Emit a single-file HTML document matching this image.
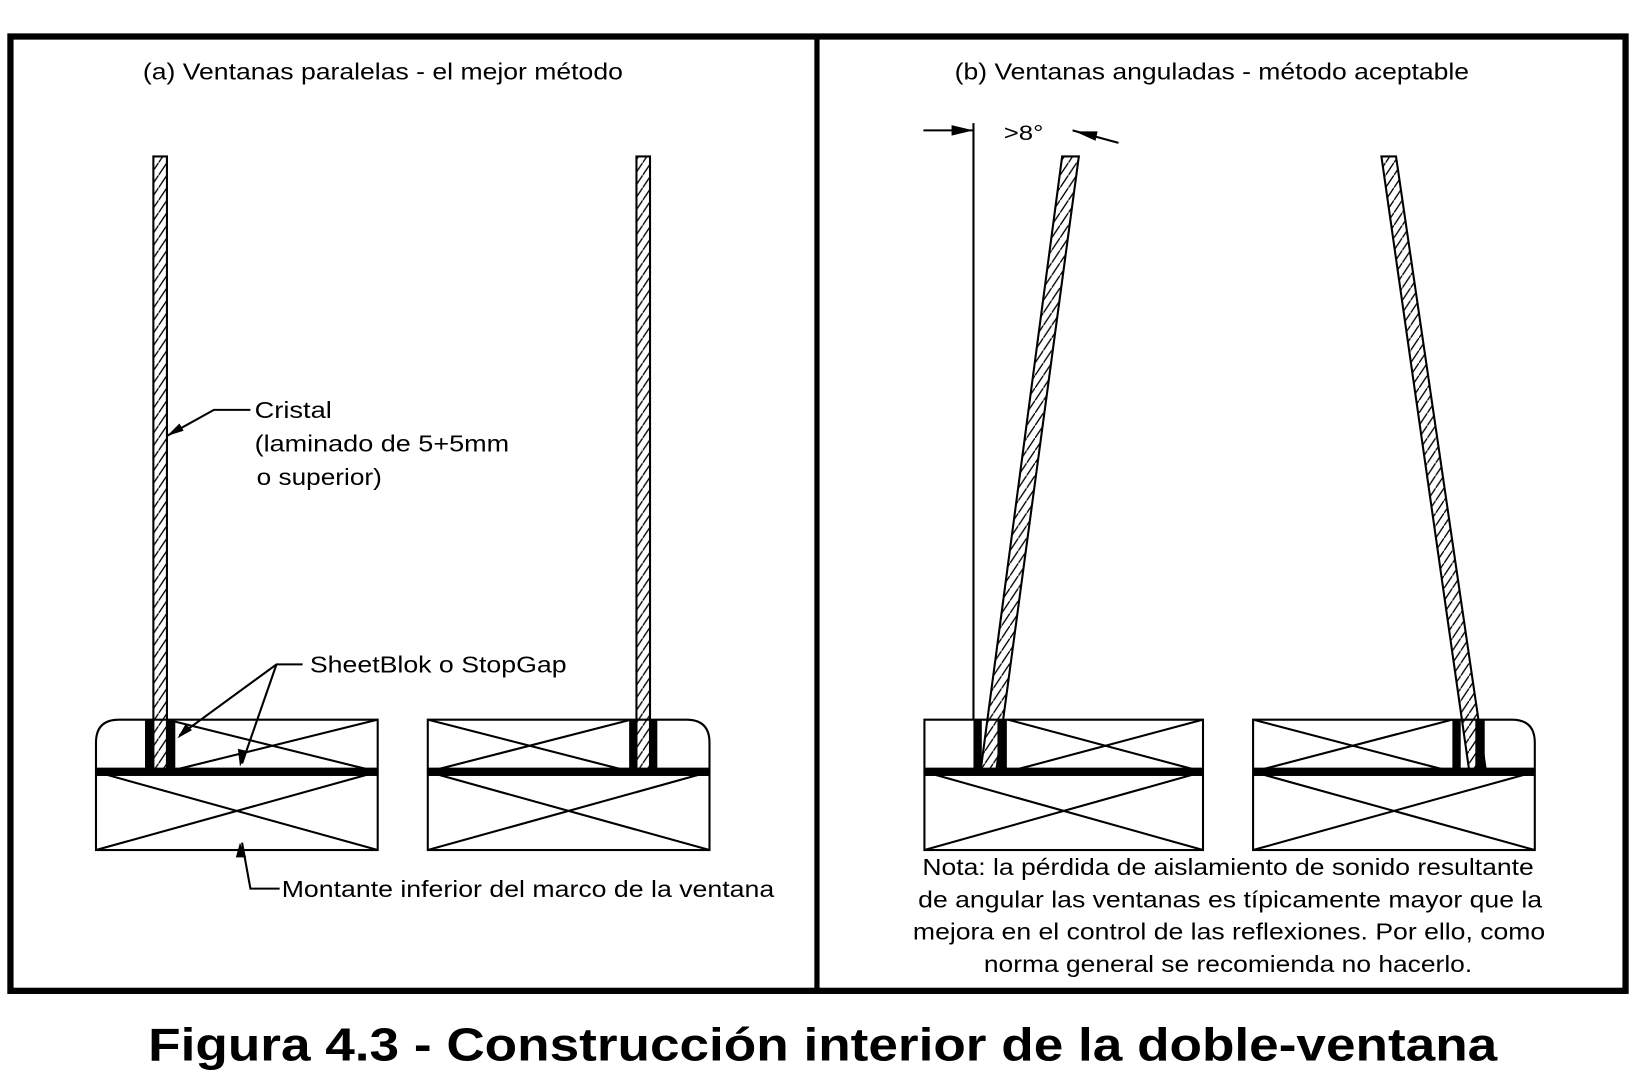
<!DOCTYPE html>
<html><head><meta charset="utf-8"><style>
html,body{margin:0;padding:0;background:#fff;}
svg{display:block;}
text{font-family:"Liberation Sans",sans-serif;fill:#000;}
</style></head><body>
<svg width="1636" height="1092" viewBox="0 0 1568 1047" preserveAspectRatio="none" xmlns="http://www.w3.org/2000/svg">
<defs>
<pattern id="hatch" width="8" height="12" patternUnits="userSpaceOnUse">
<line x1="0" y1="12" x2="8" y2="0" stroke="#000" stroke-width="1.3"/>
</pattern>
</defs>
<rect width="1568" height="1047" fill="#fff"/>
<rect x="10" y="35" width="1548" height="915" fill="none" stroke="#000" stroke-width="6"/>
<line x1="783" y1="35" x2="783" y2="950" stroke="#000" stroke-width="5"/>

<text x="137" y="76" font-size="22" textLength="460" lengthAdjust="spacingAndGlyphs">(a) Ventanas paralelas - el mejor método</text>
<text x="915" y="76" font-size="22" textLength="493" lengthAdjust="spacingAndGlyphs">(b) Ventanas anguladas - método aceptable</text>

<g stroke="#000" fill="none" stroke-width="2">
<rect x="147" y="150" width="13" height="588" fill="url(#hatch)"/>
<rect x="610" y="150" width="13" height="588" fill="url(#hatch)"/>
<path d="M92 740 V712 Q92 690 114 690 H362 V740"/>
<line x1="160" y1="690" x2="362" y2="740"/>
<line x1="160" y1="740" x2="362" y2="690"/>
<rect x="92" y="740" width="270" height="75"/>
<line x1="92" y1="740" x2="362" y2="815"/>
<line x1="92" y1="815" x2="362" y2="740"/>
<path d="M410 740 V690 H658 Q680 690 680 712 V740"/>
<line x1="410" y1="690" x2="605" y2="740"/>
<line x1="410" y1="740" x2="605" y2="690"/>
<rect x="410" y="740" width="270" height="75"/>
<line x1="410" y1="740" x2="680" y2="815"/>
<line x1="410" y1="815" x2="680" y2="740"/>
</g>
<g fill="#000">
<rect x="92" y="736" width="270" height="8"/>
<rect x="410" y="736" width="270" height="8"/>
<rect x="139" y="690" width="8" height="50"/>
<rect x="160" y="690" width="8" height="50"/>
<rect x="603" y="690" width="8" height="50"/>
<rect x="622" y="690" width="8" height="50"/>
</g>
<g stroke="#000" stroke-width="2" fill="none">
<polyline points="240,393 205,393 160,418"/>
<polyline points="290,637 265,637 172,705"/>
<polyline points="265,637 232,732"/>
<polyline points="268,852 240,852 232,808"/>
</g>
<g fill="#000">
<polygon points="160,418 172,406 176,413"/>
<polygon points="170,708 178,694 184,700"/>
<polygon points="230,735 228,718 237,720"/>
<polygon points="230,808 226,822 236,822"/>
</g>
<text x="244" y="401" font-size="22" textLength="74" lengthAdjust="spacingAndGlyphs">Cristal</text>
<text x="244" y="433" font-size="22" textLength="244" lengthAdjust="spacingAndGlyphs">(laminado de 5+5mm</text>
<text x="246" y="465" font-size="22" textLength="120" lengthAdjust="spacingAndGlyphs">o superior)</text>
<text x="297" y="645" font-size="22" textLength="246" lengthAdjust="spacingAndGlyphs">SheetBlok o StopGap</text>
<text x="270" y="860" font-size="22" textLength="472" lengthAdjust="spacingAndGlyphs">Montante inferior del marco de la ventana</text>

<g stroke="#000" fill="none" stroke-width="2">
<polygon points="1018,150 1034,150 955,738 940,738" fill="url(#hatch)"/>
<polygon points="1324,150 1338,150 1424,738 1408,738" fill="url(#hatch)"/>
<path d="M886 740 V690 H1153 V740"/>
<line x1="966" y1="690" x2="1153" y2="740"/>
<line x1="966" y1="740" x2="1153" y2="690"/>
<rect x="886" y="740" width="267" height="75"/>
<line x1="886" y1="740" x2="1153" y2="815"/>
<line x1="886" y1="815" x2="1153" y2="740"/>
<path d="M1201 740 V690 H1449 Q1471 690 1471 712 V740"/>
<line x1="1201" y1="690" x2="1392" y2="740"/>
<line x1="1201" y1="740" x2="1392" y2="690"/>
<rect x="1201" y="740" width="270" height="75"/>
<line x1="1201" y1="740" x2="1471" y2="815"/>
<line x1="1201" y1="815" x2="1471" y2="740"/>
<line x1="933" y1="118" x2="933" y2="690"/>
<line x1="885" y1="125" x2="933" y2="125"/>
<line x1="1028" y1="125" x2="1072" y2="137"/>
</g>
<g fill="#000">
<rect x="886" y="736" width="267" height="8"/>
<rect x="1201" y="736" width="270" height="8"/>
<rect x="933" y="690" width="8" height="50"/>
<rect x="956" y="690" width="9" height="50"/>
<rect x="1392" y="690" width="8" height="50"/>
<rect x="1414" y="690" width="9" height="50"/>
<polygon points="933,125 912,120 912,130"/>
<polygon points="1030,126 1052,126 1050,135"/>
</g>
<text x="962" y="134" font-size="20" textLength="38" lengthAdjust="spacingAndGlyphs">&gt;8°</text>
<g font-size="22">
<text x="884" y="839" textLength="586" lengthAdjust="spacingAndGlyphs">Nota: la pérdida de aislamiento de sonido resultante</text>
<text x="880" y="870" textLength="598" lengthAdjust="spacingAndGlyphs">de angular las ventanas es típicamente mayor que la</text>
<text x="875" y="901" textLength="606" lengthAdjust="spacingAndGlyphs">mejora en el control de las reflexiones. Por ello, como</text>
<text x="943" y="932" textLength="468" lengthAdjust="spacingAndGlyphs">norma general se recomienda no hacerlo.</text>
</g>
<text x="142" y="1017" font-size="44" font-weight="bold" textLength="1293" lengthAdjust="spacingAndGlyphs">Figura 4.3 - Construcción interior de la doble-ventana</text>
</svg>
</body></html>
